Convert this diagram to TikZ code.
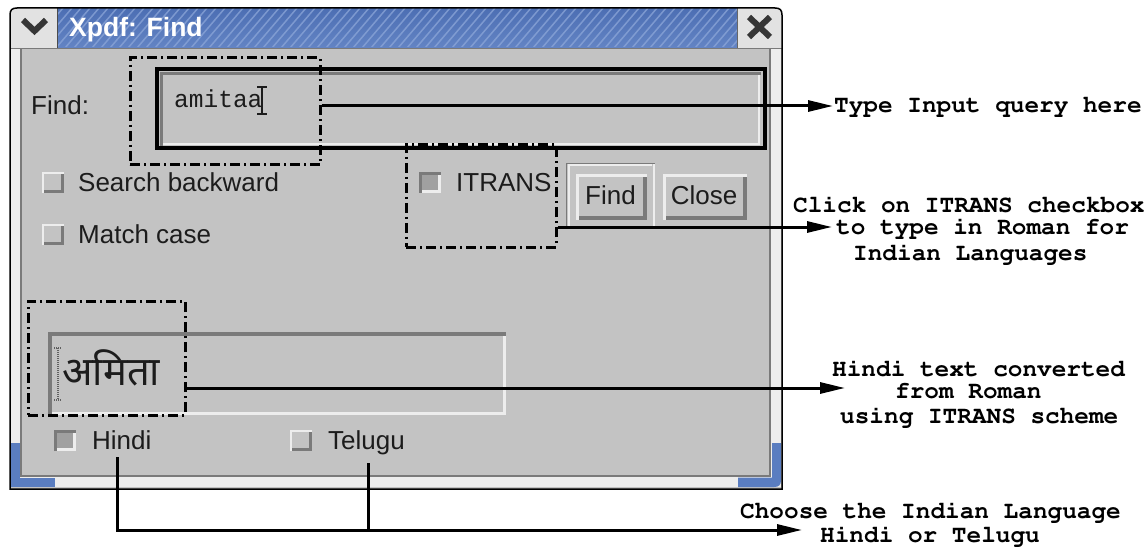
\documentclass[tikz,border=0pt]{standalone}
\usepackage[T1,TU]{fontenc}
\usepackage{fontspec}
\setmainfont{Liberation Sans}
\newfontfamily\monofont{Liberation Mono}
\newfontfamily\devafont[Script=Devanagari]{Noto Sans}
\newcommand\courbold{\fontencoding{T1}\fontfamily{pcr}\fontseries{b}\fontshape{n}\selectfont}
\usetikzlibrary{arrows.meta}

\definecolor{winbg}{HTML}{C3C3C3}
\definecolor{edgedark}{HTML}{7A7A7A}
\definecolor{hilite}{HTML}{EDEDED}
\definecolor{chkfill}{HTML}{A0A0A0}
\definecolor{btnface}{HTML}{E2E2E2}
\definecolor{glyph}{HTML}{363636}
\definecolor{guitext}{HTML}{1C1C1C}
\definecolor{bartop}{HTML}{4C6EB3}
\definecolor{barbot}{HTML}{6384C4}
\definecolor{stripe}{HTML}{8CA6D8}
\definecolor{cornerblue}{HTML}{5A7DC0}

\tikzset{
  gui/.style={font=\fontsize{26}{28}\selectfont, text=guitext, inner sep=0pt},
  note/.style={font=\courbold\fontsize{24.4}{24.4}\selectfont, inner sep=0pt},
  ddbox/.style={draw=black, line width=3pt, dash pattern=on 10pt off 4pt on 2pt off 4pt, inner sep=0pt},
  arr/.style={line width=3pt, -{Triangle[length=25pt,width=11pt]}},
  conn/.style={line width=3pt},
  unchk/.pic={
    \fill[winbg] (0,0) rectangle (22,21);
    \draw[hilite, line width=2pt] (1,21) -- (1,1) -- (22,1);
    \draw[edgedark, line width=3pt] (2,19.5) -- (20.5,19.5) -- (20.5,2);
  },
  chk/.pic={
    \fill[chkfill] (0,0) rectangle (22,21);
    \draw[edgedark, line width=3pt] (1.5,21) -- (1.5,1.5) -- (22,1.5);
    \draw[hilite, line width=3pt] (3,19.5) -- (20.5,19.5) -- (20.5,3);
  },
}

\begin{document}
\begin{tikzpicture}[x=1pt,y=-1pt]
\useasboundingbox (0,0) rectangle (1148,548);
\fill[white] (0,0) rectangle (1148,548);

% ---------- window body ----------
\fill[winbg] (10,48) rectangle (782,489);
\fill[hilite] (11,49) rectangle (20,487);
\fill[hilite] (771,49) rectangle (781,487);
\fill[hilite] (11,477) rectangle (781,487);
\draw[edgedark, line width=1.5pt] (21,49) -- (21,476) -- (770,476) -- (770,49);
\fill[cornerblue] (11,443) rectangle (20,487);
\fill[cornerblue] (11,477.5) rectangle (55,487);
\fill[cornerblue] (772,443) -- (781,443) -- (781,480) .. controls (781,485) and (779,487) .. (774,487)
  -- (738,487) -- (738,477.5) -- (772,477.5) -- cycle;

% ---------- title bar ----------
\fill[btnface] (10,48) -- (10,15) .. controls (10,10) and (12,8) .. (17,8) -- (57,8) -- (57,48) -- cycle;
\fill[btnface] (737,8) -- (775,8) .. controls (780,8) and (782,10) .. (782,15) -- (782,48) -- (737,48) -- cycle;
\shade[top color=bartop, bottom color=barbot] (57,8) rectangle (737,48);
\begin{scope}
  \clip (57,9) rectangle (737,47);
  \foreach \k in {0,...,82} {
    \draw[stripe, line width=1.5pt, opacity=0.75] ({20+9*\k},48) -- ({54+9*\k},8);
  }
\end{scope}
\draw[black!70, line width=1pt] (57,8) -- (57,48);
\draw[black!60, line width=1pt] (737,8) -- (737,48);
\draw[edgedark, line width=1.5pt] (10,48.5) -- (782,48.5);
\node[anchor=base west, text=white, font=\bfseries\fontsize{26.5}{26.5}\selectfont, inner sep=0pt]
  (title) at (69,37) {Xpdf: Find};
% menu chevron and close cross
\draw[glyph, line width=6pt] (23,20) -- (34.5,31) -- (46,20);
\draw[glyph, line width=6pt] (749,17) -- (770,37) (770,17) -- (749,37);
% outer outline
\draw[black, line width=1.5pt] (10,489) -- (10,15) .. controls (10,10) and (12,8) .. (17,8)
  -- (775,8) .. controls (780,8) and (782,10) .. (782,15) -- (782,489) -- cycle;

% ---------- search field ----------
\node[gui, anchor=base west] (findlbl) at (31,115) {Find:};
\fill[winbg] (160,72) rectangle (761,146);
\draw[edgedark, line width=3pt] (161.5,146) -- (161.5,73.5) -- (761,73.5);
\draw[hilite, line width=2pt] (163,144) -- (759,144) -- (759,75);
\node[anchor=base west, font=\monofont\fontsize{24.5}{24.5}\selectfont, text=guitext, inner sep=0pt]
  (query) at (174,108) {amitaa};
\draw[guitext, line width=1.6pt] (262,87) -- (262,114) (257,87) -- (267,87) (257,114) -- (267,114);
\draw[black, line width=3.5pt] (157,69) rectangle (765,148);

% ---------- options ----------
\pic at (42,172) {unchk};
\node[gui, anchor=base west] (backlbl) at (78,192) {Search backward};
\pic at (42,224) {unchk};
\node[gui, anchor=base west] (caselbl) at (78,243) {Match case};
\pic at (419,172) {chk};
\node[gui, anchor=base west] (itranslbl) at (456,192) {ITRANS};

% ---------- buttons ----------
\draw[edgedark, line width=1.2pt] (566.5,226) -- (566.5,163.5) -- (655,163.5);
\draw[hilite, line width=2pt] (568.5,226) -- (568.5,165.5) -- (652,165.5);
\draw[hilite, line width=2.5pt] (654,164) -- (654,226);
\fill[winbg] (576,174) rectangle (647,220);
\draw[hilite, line width=3pt] (577.5,220) -- (577.5,175.5) -- (647,175.5);
\draw[edgedark, line width=4pt] (579,218) -- (645,218) -- (645,177);
\node[gui] (findbtn) at (610.5,195.5) {Find};
\fill[winbg] (663,174) rectangle (747,220);
\draw[hilite, line width=3pt] (664.5,220) -- (664.5,175.5) -- (747,175.5);
\draw[edgedark, line width=4pt] (666,218) -- (745,218) -- (745,177);
\node[gui] (closebtn) at (704,195.5) {Close};

% ---------- converted text field ----------
\fill[winbg] (48,332) rectangle (506,415);
\draw[edgedark, line width=4pt] (50,415) -- (50,334) -- (506,334);
\draw[hilite, line width=3pt] (52,413.5) -- (504.5,413.5) -- (504.5,336);
\draw[guitext!70, line width=2.5pt, dash pattern=on 1pt off 1pt] (58,348) -- (58,400);
\draw[guitext!70, line width=1.2pt, dash pattern=on 1pt off 1pt] (54,348) -- (62,348) (54,400) -- (62,400);
\node[anchor=base west, font=\devafont\fontsize{40}{40}\selectfont, text=guitext, inner sep=0pt]
  (hindiword) at (62,385) {अमिता};

% ---------- language choice ----------
\pic at (54,430) {chk};
\node[gui, anchor=base west] (hindilbl) at (92,449) {Hindi};
\pic at (290,430) {unchk};
\node[gui, anchor=base west] (telugulbl) at (328,449) {Telugu};

% ---------- annotations ----------
\node[ddbox, minimum width=190pt, minimum height=107pt] (qmark) at (225,111.5) {};
\node[ddbox, minimum width=150pt, minimum height=102pt] (imark) at (481,196) {};
\node[ddbox, minimum width=157pt, minimum height=114pt] (hmark) at (106.5,358) {};

\coordinate (qtip) at (833,106);
\coordinate (itip) at (832,227);
\coordinate (htip) at (845,388);
\coordinate (ctip) at (802,530);
\coordinate (hstem) at (117,457);
\coordinate (tstem) at (368,463);

\draw[arr] (qmark.east |- qtip) -- (qtip);
\draw[arr] (imark.east |- itip) -- (itip);
\draw[arr] (hmark.east |- htip) -- (htip);
\draw[arr] (hstem) |- (ctip);
\draw[conn] (tstem) -- (tstem |- ctip);

\node[note, anchor=base west] (qnote) at (834,113) {Type Input query here};

\node[note, anchor=base west] (inote1) at (793,212) {Click on ITRANS checkbox};
\node[note, anchor=base west] (inote2) at (836,234) {to type in Roman for};
\node[note, anchor=base west] (inote3) at (853,260) {Indian Languages};

\node[note, anchor=base west] (hnote1) at (832,376) {Hindi text converted};
\node[note, anchor=base west] (hnote2) at (895,398) {from Roman};
\node[note, anchor=base west] (hnote3) at (840,423) {using ITRANS scheme};

\node[note, anchor=base west] (cnote1) at (740,518) {Choose the Indian Language};
\node[note, anchor=base west] (cnote2) at (820,542) {Hindi or Telugu};
\end{tikzpicture}
\end{document}
